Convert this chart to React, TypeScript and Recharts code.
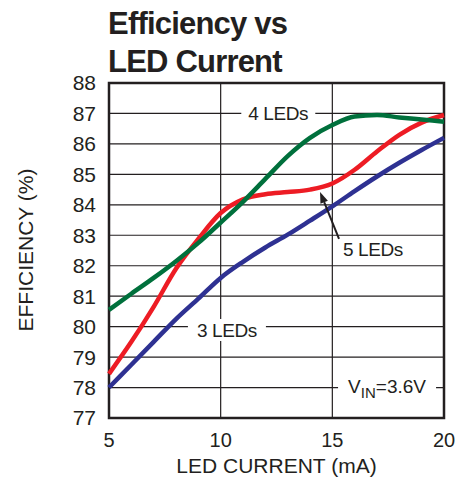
import React from 'react';
import {
  LineChart, Line, XAxis, YAxis, CartesianGrid, ReferenceArea, ReferenceDot, ReferenceLine,
} from 'recharts';

const currents = [5, 6, 7, 8, 9, 10, 11, 12, 13, 14, 15, 16, 17, 18, 19, 20];
const leds3 = [78.0, 78.75, 79.5, 80.25, 80.92, 81.6, 82.13, 82.6, 83.02, 83.48, 83.95, 84.45, 84.93, 85.38, 85.8, 86.2];
const leds4 = [80.55, 81.08, 81.6, 82.15, 82.75, 83.42, 84.1, 84.85, 85.6, 86.2, 86.62, 86.9, 86.95, 86.87, 86.8, 86.73];
const leds5 = [78.45, 79.5, 80.65, 81.9, 82.88, 83.73, 84.18, 84.35, 84.42, 84.5, 84.7, 85.15, 85.75, 86.3, 86.7, 86.95];
const xTicks = [5, 10, 15, 20];
const yTicks = [77, 78, 79, 80, 81, 82, 83, 84, 85, 86, 87, 88];

const data = currents.map((x, i) => ({ x, leds3: leds3[i], leds4: leds4[i], leds5: leds5[i] }));

const FONT = '"Liberation Sans", Arial, Helvetica, sans-serif';
const INK = '#231f20';

const Tag = (props: any) => {
  const { cx, cy, text, w, bg = true } = props;
  return (
    <g>
      {bg && <rect x={cx - w / 2} y={cy - 11} width={w} height={22} fill="#fff" />}
      <text x={cx} y={cy} dy="0.36em" textAnchor="middle" fontSize={19} letterSpacing={-0.4}
        fontFamily={FONT} fill={INK}>{text}</text>
    </g>
  );
};

const VinTag = (props: any) => {
  const { cx, cy } = props;
  return (
    <g>
      <rect x={cx - 49} y={cy - 12} width={98} height={24} fill="#fff" />
      <text x={cx} y={cy} dy="0.36em" textAnchor="middle" fontSize={19} fontFamily={FONT} fill={INK}>
        V<tspan fontSize={15} dy={5}>IN</tspan><tspan dy={-5}>=3.6V</tspan>
      </text>
    </g>
  );
};

const Arrow = (props: any) => {
  const { x1, y1, x2, y2 } = props;
  const a = Math.atan2(y2 - y1, x2 - x1);
  const len = 11, half = 4;
  const bx = x2 - len * Math.cos(a), by = y2 - len * Math.sin(a);
  const px = -Math.sin(a) * half, py = Math.cos(a) * half;
  return (
    <g>
      <line x1={x1} y1={y1} x2={bx} y2={by} stroke={INK} strokeWidth={2} />
      <polygon points={`${x2},${y2} ${bx + px},${by + py} ${bx - px},${by - py}`} fill={INK} />
    </g>
  );
};

export default function App() {
  return (
    <div style={{ position: 'absolute', left: 0, top: 0, width: 462, height: 477, background: '#fff' }}>
      <div style={{
        position: 'absolute', left: 108, top: 5, fontFamily: FONT, fontWeight: 'bold', fontSize: 31,
        lineHeight: '38px', letterSpacing: -0.8, color: INK, whiteSpace: 'nowrap',
      }}>
        Efficiency vs<br />LED Current
      </div>
      <div style={{
        position: 'absolute', left: 26, top: 250, transform: 'translate(-50%, -50%) rotate(-90deg)',
        fontFamily: FONT, fontSize: 21, color: INK, whiteSpace: 'nowrap',
      }}>
        EFFICIENCY (%)
      </div>
      <LineChart width={462} height={477} data={data} margin={{ top: 83, right: 18, left: 0, bottom: 0 }}
        style={{ position: 'absolute', left: 0, top: 0 }}>
        <CartesianGrid stroke={INK} strokeWidth={1.2} />
        <XAxis type="number" dataKey="x" domain={[5, 20]} ticks={xTicks} height={59}
          axisLine={false} tickLine={false} tickSize={6} tickMargin={9}
          tick={{ fontSize: 20, fontFamily: FONT, fill: INK }}
          label={{ value: 'LED CURRENT (mA)', position: 'insideBottom', offset: 4, fontSize: 21, fontFamily: FONT, fill: INK }} />
        <YAxis type="number" domain={[77, 88]} ticks={yTicks} width={109} interval={0}
          axisLine={false} tickLine={false} tickSize={6} tickMargin={7}
          tick={{ fontSize: 21, fontFamily: FONT, fill: INK }} />
        <Line type="monotone" dataKey="leds3" stroke="#2e3192" strokeWidth={4.5} dot={false} isAnimationActive={false} />
        <Line type="monotone" dataKey="leds5" stroke="#ed1c24" strokeWidth={4.5} dot={false} isAnimationActive={false} />
        <Line type="monotone" dataKey="leds4" stroke="#00703c" strokeWidth={4.5} dot={false} isAnimationActive={false} />
        <ReferenceArea x1={5} x2={20} y1={77} y2={88} fill="none" stroke={INK} strokeWidth={2.5} fillOpacity={0} />
        <ReferenceDot x={12.58} y={87} r={0} shape={(p: any) => <Tag {...p} text="4 LEDs" w={74} />} />
        <ReferenceDot x={10.28} y={79.89} r={0} shape={(p: any) => <Tag {...p} text="3 LEDs" w={78} />} />
        <ReferenceDot x={16.82} y={82.55} r={0} shape={(p: any) => <Tag {...p} text="5 LEDs" w={74} bg={false} />} />
        <ReferenceDot x={17.45} y={78.05} r={0} shape={(p: any) => <VinTag {...p} />} />
        <ReferenceLine segment={[{ x: 15.3, y: 82.88 }, { x: 14.45, y: 84.42 }]} shape={(p: any) => <Arrow {...p} />} />
      </LineChart>
    </div>
  );
}
